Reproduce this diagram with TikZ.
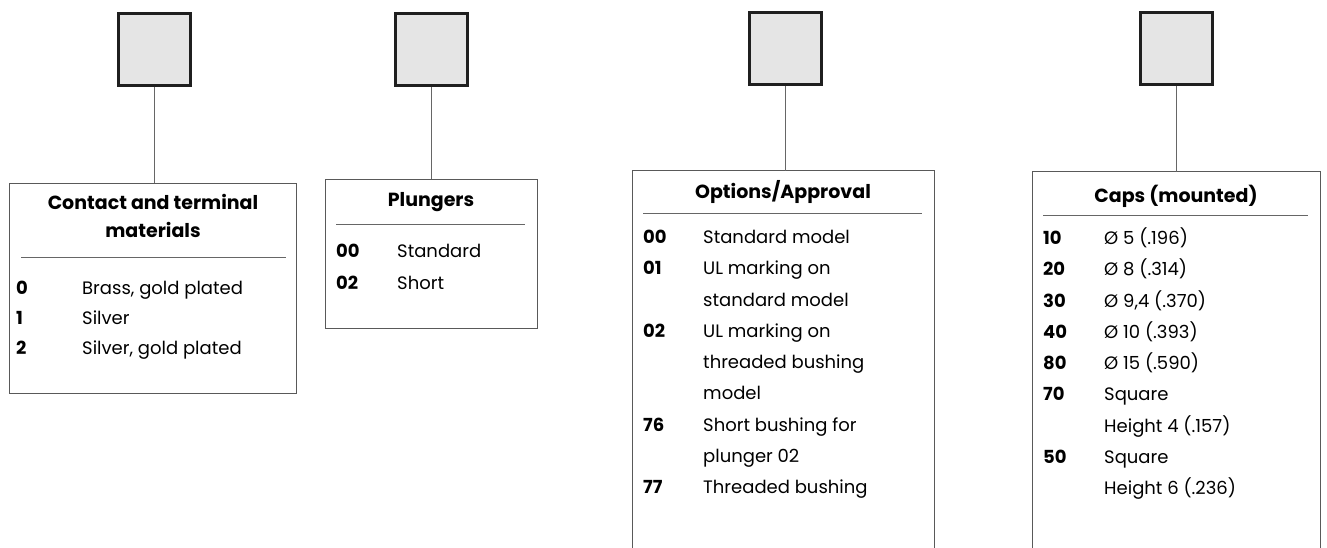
\documentclass[tikz,border=0pt]{standalone}
\usepackage{fontspec}
\setmainfont{Poppins}

\begin{document}
\begin{tikzpicture}[x=1pt, y=-1pt,
    selbox/.style={draw=black!88, line width=3pt, fill=black!10, minimum size=72pt, inner sep=0pt},
    link/.style={draw=black!60, line width=1pt},
    panel/.style={draw=black!65, line width=1pt, anchor=north west, inner sep=0pt},
    rule/.style={draw=black!60, line width=0.9pt},
    head/.style={font=\bfseries\fontsize{19}{28}\selectfont, inner sep=0pt, align=center, anchor=base},
    num/.style={font=\bfseries\fontsize{18}{30}\selectfont, inner sep=0pt, anchor=base west},
    item/.style={font=\fontsize{18}{30}\selectfont, inner sep=0pt, anchor=base west}]

    \useasboundingbox (0,0) rectangle (1327,548);

    % Selection boxes of the order code
    \node[selbox] (sel1) at (154,50) {};
    \node[selbox] (sel2) at (431,50) {};
    \node[selbox] (sel3) at (785,49) {};
    \node[selbox] (sel4) at (1176,49) {};

    % Panels (the two on the right run off the bottom)
    \node[panel, minimum width=287pt, minimum height=210pt] (pan1) at (9,183) {};
    \node[panel, minimum width=212pt, minimum height=149pt] (pan2) at (325,179) {};
    \node[panel, draw=none, minimum width=301pt, minimum height=377pt] (pan3) at (632,171) {};
    \node[panel, draw=none, minimum width=287pt, minimum height=376pt] (pan4) at (1032,172) {};
    \draw[panel] (pan3.south west) -- (pan3.north west) -- (pan3.north east) -- (pan3.south east);
    \draw[panel] (pan4.south west) -- (pan4.north west) -- (pan4.north east) -- (pan4.south east);

    % Connectors
    \draw[link] (sel1.south) -- (sel1.south |- pan1.north);
    \draw[link] (sel2.south) -- (sel2.south |- pan2.north);
    \draw[link] (sel3.south) -- (sel3.south |- pan3.north);
    \draw[link] (sel4.south) -- (sel4.south |- pan4.north);

    % Contact and terminal materials
    \node[head] (ttl1) at (153,237) {Contact and terminal\\materials};
    \draw[rule] (21,257) -- (286,257);
    \node[num] (n1a) at (16,294) {0};
    \node[item] (t1a) at (82,294) {Brass, gold plated};
    \node[num] (n1b) at (16,324) {1};
    \node[item] (t1b) at (82,324) {Silver};
    \node[num] (n1c) at (16,354) {2};
    \node[item] (t1c) at (82,354) {Silver, gold plated};

    % Plungers
    \node[head] (ttl2) at (431,207) {Plungers};
    \draw[rule] (336,224) -- (525,224);
    \node[num] (n2a) at (336,257) {00};
    \node[item] (t2a) at (397,257) {Standard};
    \node[num] (n2b) at (336,289) {02};
    \node[item] (t2b) at (397,289) {Short};

    % Options/Approval
    \node[head] (ttl3) at (783,199) {Options/Approval};
    \draw[rule] (643,213) -- (922,213);
    \node[num] (n3a) at (643,243.5) {00};
    \node[item] (t3a) at (703,243.5) {Standard model};
    \node[num] (n3b) at (643,274.5) {01};
    \node[item] (t3b) at (703,274.5) {UL marking on};
    \node[item] (t3c) at (703,306) {standard model};
    \node[num] (n3d) at (643,337.5) {02};
    \node[item] (t3d) at (703,337.5) {UL marking on};
    \node[item] (t3e) at (703,368.5) {threaded bushing};
    \node[item] (t3f) at (703,399.5) {model};
    \node[num] (n3g) at (643,431) {76};
    \node[item] (t3g) at (703,431) {Short bushing for};
    \node[item] (t3h) at (703,462.5) {plunger 02};
    \node[num] (n3i) at (643,493.5) {77};
    \node[item] (t3i) at (703,493.5) {Threaded bushing};

    % Caps (mounted)
    \node[head] (ttl4) at (1176,202) {Caps (mounted)};
    \draw[rule] (1043,215) -- (1308,215);
    \node[num] (n4a) at (1043,244.5) {10};
    \node[item] (t4a) at (1104,244.5) {Ø 5 (.196)};
    \node[num] (n4b) at (1043,275.5) {20};
    \node[item] (t4b) at (1104,275.5) {Ø 8 (.314)};
    \node[num] (n4c) at (1043,307) {30};
    \node[item] (t4c) at (1104,307) {Ø 9,4 (.370)};
    \node[num] (n4d) at (1043,338.5) {40};
    \node[item] (t4d) at (1104,338.5) {Ø 10 (.393)};
    \node[num] (n4e) at (1043,369.5) {80};
    \node[item] (t4e) at (1104,369.5) {Ø 15 (.590)};
    \node[num] (n4f) at (1043,400.5) {70};
    \node[item] (t4f) at (1104,400.5) {Square};
    \node[item] (t4g) at (1104,432) {Height 4 (.157)};
    \node[num] (n4h) at (1043,463.5) {50};
    \node[item] (t4h) at (1104,463.5) {Square};
    \node[item] (t4i) at (1104,494.5) {Height 6 (.236)};
\end{tikzpicture}
\end{document}
